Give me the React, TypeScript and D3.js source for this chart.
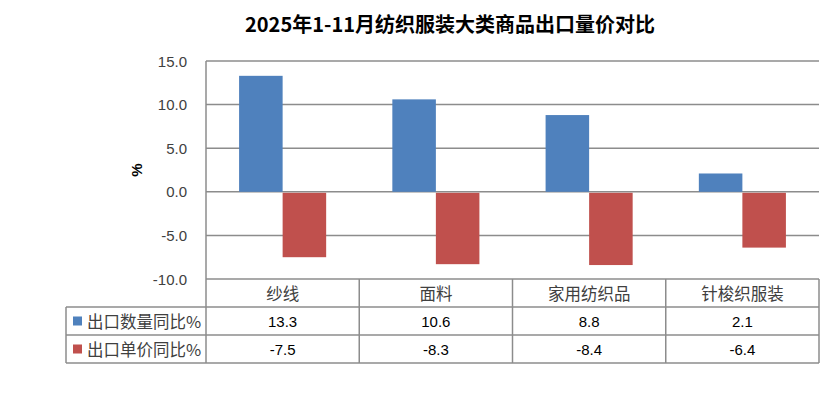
import * as d3 from "d3";

const categories = ["纱线", "面料", "家用纺织品", "针梭织服装"];
const seriesNames = ["出口数量同比%", "出口单价同比%"];
const qtyYoY = [13.3, 10.6, 8.8, 2.1];
const priceYoY = [-7.5, -8.3, -8.4, -6.4];
const yTicks = [15, 10, 5, 0, -5, -10];
const colors = ["#4F81BD", "#C0504D"];

const W = 830;
const H = 394;
const plotL = 206;
const plotR = 819;
const plotT = 61;
const plotB = 279;
const tableL = 66;
const rowH = 28;
const font = "'Liberation Sans', 'Noto Sans CJK SC', sans-serif";
const cjkFont = "'Noto Sans CJK SC', sans-serif";
const textCol = "#404040";
const lineCol = "#8c8c8c";

const App = () => {
  const series = [qtyYoY, priceYoY];

  // scales
  const x = d3.scaleBand<string>().domain(categories).range([plotL, plotR]);
  const xInner = d3
    .scaleBand<string>()
    .domain(seriesNames)
    .range([0, x.bandwidth()])
    .paddingOuter(0.76);
  const y = d3.scaleLinear().domain([-10, 15]).range([plotB, plotT]);

  const rows = [plotB, plotB + rowH, plotB + 2 * rowH, plotB + 3 * rowH];
  const colEdges = [plotL, ...categories.map((c) => (x(c) ?? 0) + x.bandwidth())];

  return (
    <svg
      width={W}
      height={H}
      style={{ position: "absolute", left: 0, top: 0, background: "#fff" }}
      fontFamily={font}
    >
      {/* title */}
      <text
        x={450}
        y={23}
        textAnchor="middle"
        dominantBaseline="central"
        fontSize={20}
        fontWeight="bold"
        fontFamily={cjkFont}
        fill="#000"
      >
        2025年1-11月纺织服装大类商品出口量价对比
      </text>

      {/* gridlines + y labels */}
      {yTicks.map((t) => (
        <g key={t}>
          <line x1={plotL} x2={plotR} y1={y(t)} y2={y(t)} stroke={lineCol} strokeWidth={1.5} />
          <text
            x={187}
            y={y(t)}
            textAnchor="end"
            dominantBaseline="central"
            fontSize={15}
            fill={textCol}
          >
            {t.toFixed(1)}
          </text>
        </g>
      ))}
      <line x1={plotL} x2={plotL} y1={plotT} y2={plotB} stroke={lineCol} strokeWidth={1.5} />

      <text
        transform={`translate(136,170) rotate(-90)`}
        textAnchor="middle"
        dominantBaseline="central"
        fontSize={15}
        fontWeight="bold"
        fill="#000"
      >
        %
      </text>

      {/* bars */}
      {series.map((vals, si) =>
        vals.map((v, ci) => {
          const bx = (x(categories[ci]) ?? 0) + (xInner(seriesNames[si]) ?? 0);
          const y0 = y(0) + (v < 0 ? 1 : 0);
          return (
            <rect
              key={`${si}-${ci}`}
              x={bx}
              y={Math.min(y(v), y0)}
              width={xInner.bandwidth()}
              height={Math.abs(y(v) - y0)}
              fill={colors[si]}
            />
          );
        })
      )}

      {/* data table */}
      <g stroke={lineCol} strokeWidth={1.5}>
        {rows.slice(1).map((ry) => (
          <line key={ry} x1={tableL} x2={plotR} y1={ry} y2={ry} />
        ))}
        <line x1={tableL} x2={tableL} y1={rows[1]} y2={rows[3]} />
        {colEdges.map((cx) => (
          <line key={cx} x1={cx} x2={cx} y1={rows[0]} y2={rows[3]} />
        ))}
      </g>
      {categories.map((c) => (
        <text
          key={c}
          x={(x(c) ?? 0) + x.bandwidth() / 2}
          y={(rows[0] + rows[1]) / 2}
          textAnchor="middle"
          dominantBaseline="central"
          fontSize={16.5}
          fontFamily={cjkFont}
          fill={textCol}
        >
          {c}
        </text>
      ))}
      {seriesNames.map((name, si) => {
        const cy = (rows[si + 1] + rows[si + 2]) / 2;
        return (
          <g key={name}>
            <rect x={73} y={cy - 4.5} width={9} height={9} fill={colors[si]} />
            <text
              x={87}
              y={cy}
              dominantBaseline="central"
              fontSize={16.5}
              fontFamily={cjkFont}
              fill={textCol}
            >
              {name}
            </text>
            {series[si].map((v, ci) => (
              <text
                key={ci}
                x={(x(categories[ci]) ?? 0) + x.bandwidth() / 2}
                y={cy}
                textAnchor="middle"
                dominantBaseline="central"
                fontSize={15}
                fill="#000"
              >
                {v.toFixed(1)}
              </text>
            ))}
          </g>
        );
      })}
    </svg>
  );
};

export default App;
